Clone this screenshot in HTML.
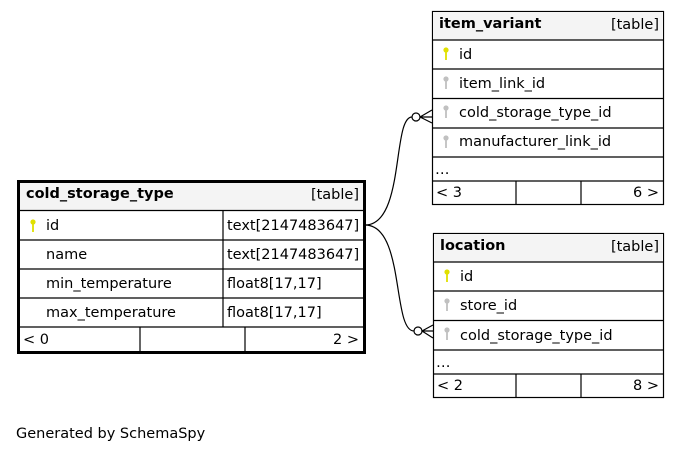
<!DOCTYPE html>
<html><head><meta charset="utf-8"><style>
html,body{margin:0;padding:0;background:#fff;}
svg{display:block;}
text{font-family:"DejaVu Sans","Liberation Sans",sans-serif;font-size:14.5px;fill:#000;}
.b{font-weight:bold;}
</style></head><body>
<svg width="680" height="453" viewBox="0 0 680 453" xmlns="http://www.w3.org/2000/svg">
<defs>
<g id="ky"><circle cx="0" cy="0" r="2.6" fill="#e0e000"/><rect x="-0.9" y="0" width="1.8" height="10" fill="#e0e000"/></g>
<g id="kg"><circle cx="0" cy="0" r="2.6" fill="#c0c0c0"/><rect x="-0.9" y="0" width="1.8" height="10" fill="#c0c0c0"/></g>
</defs>

<!-- cold_storage_type -->
<rect x="18.5" y="181.5" width="346" height="171" fill="#fff" stroke="#000" stroke-width="3"/>
<rect x="20" y="183" width="343" height="27" fill="#f4f4f4"/>
<g stroke="#000" stroke-width="1.2" fill="none">
<line x1="20" y1="210.5" x2="363" y2="210.5"/>
<line x1="20" y1="240" x2="363" y2="240"/>
<line x1="20" y1="269" x2="363" y2="269"/>
<line x1="20" y1="298" x2="363" y2="298"/>
<line x1="20" y1="327" x2="363" y2="327"/>
<line x1="223" y1="210" x2="223" y2="327"/>
<line x1="140" y1="327" x2="140" y2="351"/>
<line x1="245" y1="327" x2="245" y2="351"/>
</g>
<text x="26" y="198" class="b">cold_storage_type</text>
<text x="359" y="199" text-anchor="end">[table]</text>
<use href="#ky" x="33" y="222"/>
<text x="46" y="230">id</text><text x="227" y="230">text[2147483647]</text>
<text x="46" y="259">name</text><text x="227" y="259">text[2147483647]</text>
<text x="46" y="288">min_temperature</text><text x="227" y="288">float8[17,17]</text>
<text x="46" y="317">max_temperature</text><text x="227" y="317">float8[17,17]</text>
<text x="23" y="344">&lt; 0</text><text x="359" y="344" text-anchor="end">2 &gt;</text>

<!-- item_variant -->
<rect x="432.5" y="11.5" width="231" height="193" fill="#fff" stroke="#000" stroke-width="1.2"/>
<rect x="433" y="12" width="230" height="28" fill="#f4f4f4"/>
<g stroke="#000" stroke-width="1.2">
<line x1="432" y1="40" x2="664" y2="40"/>
<line x1="432" y1="69" x2="664" y2="69"/>
<line x1="432" y1="98.5" x2="664" y2="98.5"/>
<line x1="432" y1="128" x2="664" y2="128"/>
<line x1="432" y1="157" x2="664" y2="157"/>
<line x1="432" y1="181" x2="664" y2="181"/>
<line x1="516" y1="181" x2="516" y2="205"/>
<line x1="581" y1="181" x2="581" y2="205"/>
</g>
<text x="439" y="28" class="b">item_variant</text>
<text x="659" y="29" text-anchor="end">[table]</text>
<use href="#ky" x="446" y="50"/><text x="459" y="59">id</text>
<use href="#kg" x="446" y="79"/><text x="459" y="88">item_link_id</text>
<use href="#kg" x="446" y="108"/><text x="459" y="117">cold_storage_type_id</text>
<use href="#kg" x="446" y="138"/><text x="459" y="146">manufacturer_link_id</text>
<text x="435" y="174">…</text>
<text x="436" y="197">&lt; 3</text><text x="659" y="197" text-anchor="end">6 &gt;</text>

<!-- location -->
<rect x="433.5" y="233.5" width="230" height="164" fill="#fff" stroke="#000" stroke-width="1.2"/>
<rect x="434" y="234" width="229" height="28" fill="#f4f4f4"/>
<g stroke="#000" stroke-width="1.2">
<line x1="433" y1="262" x2="664" y2="262"/>
<line x1="433" y1="291" x2="664" y2="291"/>
<line x1="433" y1="320.5" x2="664" y2="320.5"/>
<line x1="433" y1="350" x2="664" y2="350"/>
<line x1="433" y1="374" x2="664" y2="374"/>
<line x1="516" y1="374" x2="516" y2="398"/>
<line x1="581" y1="374" x2="581" y2="398"/>
</g>
<text x="440" y="250" class="b">location</text>
<text x="659" y="251" text-anchor="end">[table]</text>
<use href="#ky" x="447" y="272"/><text x="460" y="281">id</text>
<use href="#kg" x="447" y="301"/><text x="460" y="310">store_id</text>
<use href="#kg" x="447" y="330"/><text x="460" y="340">cold_storage_type_id</text>
<text x="436" y="367">…</text>
<text x="437" y="390">&lt; 2</text><text x="659" y="390" text-anchor="end">8 &gt;</text>

<!-- edges -->
<g stroke="#000" stroke-width="1.2" fill="none">
<path d="M365,225 C405,225 392,117 412,117"/>
<circle cx="416" cy="117" r="4" fill="#fff"/>
<path d="M420,117 L432,110 M420,117 L432,117 M420,117 L432,123"/>
<path d="M365,225 C405,225 392,331 414,331"/>
<circle cx="418" cy="331" r="4" fill="#fff"/>
<path d="M422,331 L433,325 M422,331 L433,331 M422,331 L433,338"/>
</g>

<text x="16" y="438">Generated by SchemaSpy</text>
</svg>
</body></html>
